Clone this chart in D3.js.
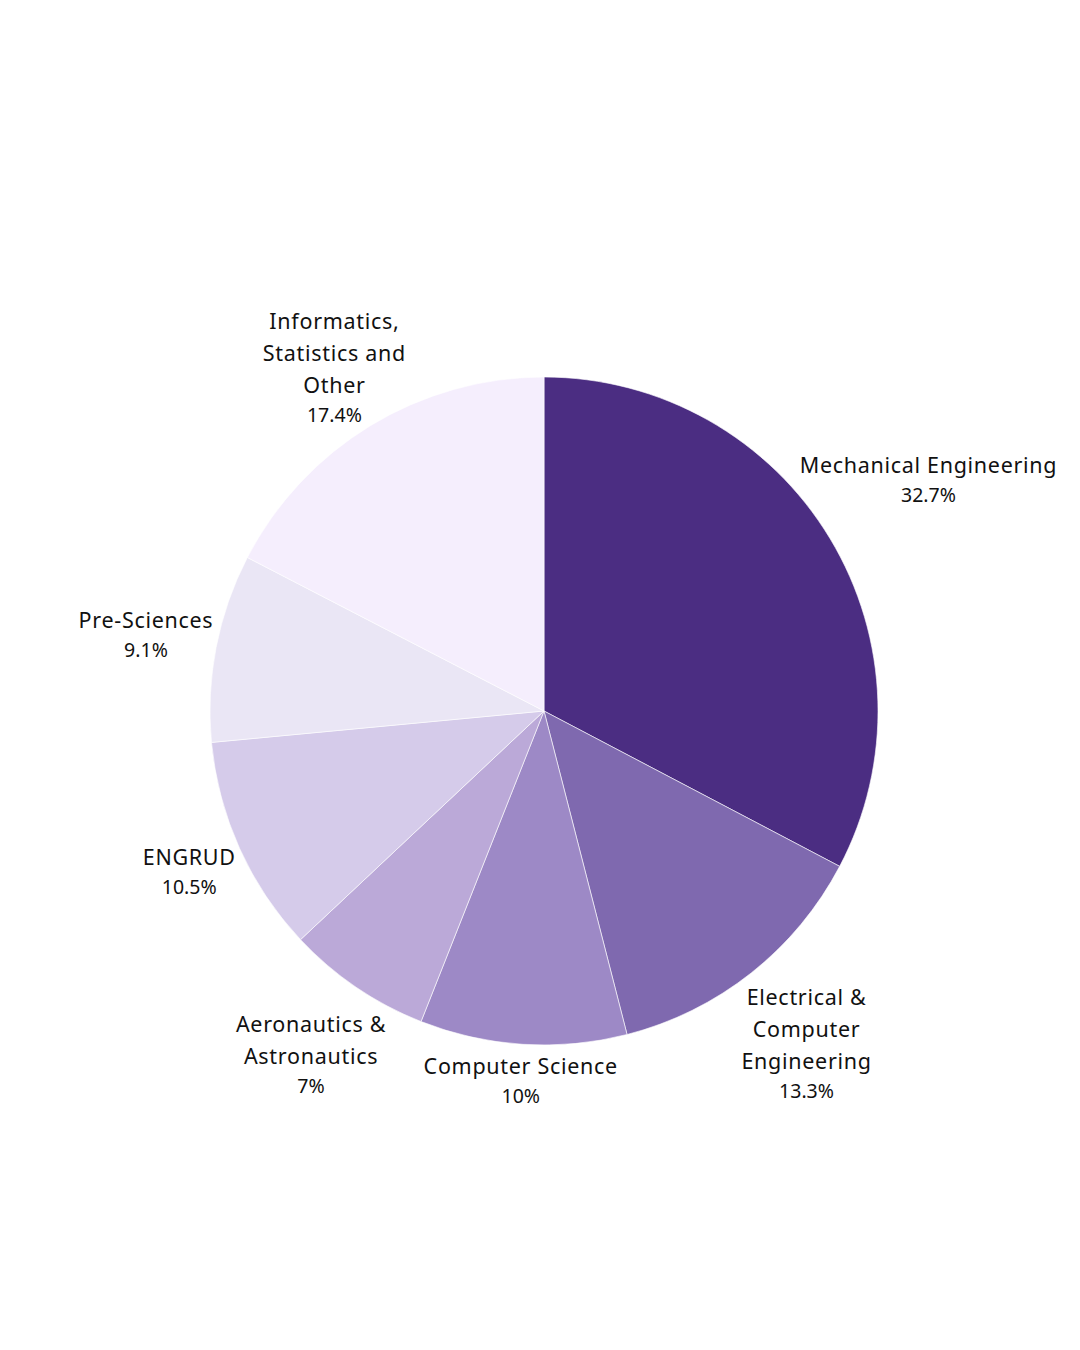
<!DOCTYPE html>
<html>
<head>
<meta charset="utf-8">
<script src="https://cdn.jsdelivr.net/npm/d3@7/dist/d3.min.js"></script>
<style>
  html, body { margin: 0; padding: 0; background: #ffffff; }
  svg { display: block; }
  text { font-family: "Noto Sans", "Open Sans", sans-serif; fill: #111111; }
</style>
</head>
<body>
<svg id="chart" width="1080" height="1350"></svg>
<script>
// ---- data ----
const categories = [
  "Mechanical Engineering",
  "Electrical & Computer Engineering",
  "Computer Science",
  "Aeronautics & Astronautics",
  "ENGRUD",
  "Pre-Sciences",
  "Informatics, Statistics and Other"
];
const labelLines = [
  ["Mechanical Engineering"],
  ["Electrical &", "Computer", "Engineering"],
  ["Computer Science"],
  ["Aeronautics &", "Astronautics"],
  ["ENGRUD"],
  ["Pre-Sciences"],
  ["Informatics,", "Statistics and", "Other"]
];
const shares = [32.7, 13.3, 10, 7, 10.5, 9.1, 17.4];
const valueLabels = ["32.7%", "13.3%", "10%", "7%", "10.5%", "9.1%", "17.4%"];
const palette = ["#4b2d82", "#7f69af", "#9d89c6", "#bba9d8", "#d5cbea", "#eae6f5", "#f5eefd"];

// ---- layout ----
const cx = 544, cy = 711, radius = 334;
const lineH = 32;

const data = categories.map((c, i) => ({ name: c, lines: labelLines[i], value: shares[i], label: valueLabels[i] }));

const color = d3.scaleOrdinal().domain(categories).range(palette);
const pie = d3.pie().value(d => d.value).sort(null);
const arc = d3.arc().innerRadius(0).outerRadius(radius);

const svg = d3.select("#chart");
const g = svg.append("g").attr("transform", `translate(${cx},${cy})`);

const arcs = pie(data);

g.selectAll("path.slice")
  .data(arcs)
  .join("path")
  .attr("class", "slice")
  .attr("d", arc)
  .attr("fill", d => color(d.data.name))
  .attr("stroke", "#ffffff")
  .attr("stroke-width", 0.6);

// labels
const labels = g.selectAll("g.lbl")
  .data(arcs)
  .join("g")
  .attr("class", "lbl");

labels.each(function(d) {
  const sel = d3.select(this);
  const t = sel.append("text").attr("text-anchor", "middle");
  const n = d.data.lines.length;
  d.data.lines.forEach((ln, i) => {
    t.append("tspan").attr("x", 0).attr("y", i * lineH)
      .style("font-size", "21.5px").style("letter-spacing", "0.7px").text(ln);
  });
  t.append("tspan").attr("x", 0).attr("y", (n - 1) * lineH + 29)
    .style("font-size", "19.5px").text(d.data.label);
  const bb = t.node().getBBox();
  const mid = (d.startAngle + d.endAngle) / 2;
  const s = Math.sin(mid), c = -Math.cos(mid);
  const ext = (bb.width / 2) * Math.abs(s) + (bb.height / 2) * Math.abs(c);
  const gap = 1 - 30 * Math.max(0, -c - 0.15);
  const R = radius + ext + gap;
  const px = R * s, py = R * c;
  const bx = bb.x + bb.width / 2, by = bb.y + bb.height / 2;
  sel.attr("transform", `translate(${px - bx},${py - by})`);
});
</script>
</body>
</html>
